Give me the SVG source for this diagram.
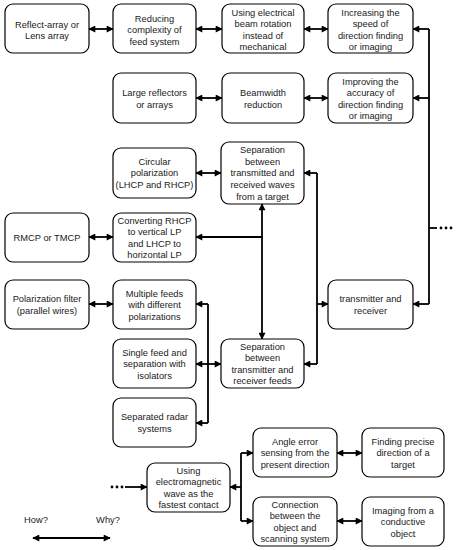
<svg xmlns="http://www.w3.org/2000/svg" width="459" height="550" viewBox="0 0 459 550">
<style>
.b{fill:#fff;stroke:#000;stroke-width:1.2}
.t{font-family:"Liberation Sans",Arial,sans-serif;font-size:9.3px;fill:#1a1a1a;text-anchor:middle}
.c{fill:none;stroke:#000;stroke-width:1.8}
.a2{marker-start:url(#ah);marker-end:url(#ah)}
.a1{marker-end:url(#ah)}
</style>
<defs>
<marker id="ah" viewBox="0 0 10 10" refX="9" refY="5" markerWidth="8" markerHeight="7" markerUnits="userSpaceOnUse" orient="auto-start-reverse">
<path d="M0,0 L10,5 L0,10 z" fill="#000"/>
</marker>
</defs>
<rect width="459" height="550" fill="#fff"/>
<g id="connectors">
<path class="c a2" d="M89,29 H113"/>
<path class="c a2" d="M196,29 H222"/>
<path class="c a2" d="M304,29 H328"/>
<path class="c a2" d="M196,98 H222"/>
<path class="c a2" d="M304,98 H328"/>
<path class="c" d="M429,29 V304"/>
<path class="c a1" d="M429,29 H413"/>
<path class="c a1" d="M429,98 H413"/>
<path class="c a1" d="M429,304 H413"/>
<path class="c" d="M429,228 H437"/>
<circle cx="441" cy="228" r="1.4"/><circle cx="446" cy="228" r="1.4"/><circle cx="451" cy="228" r="1.4"/>
<path class="c a2" d="M196,173 H221"/>
<path class="c a2" d="M89,237 H113"/>
<path class="c a1" d="M262,237 H196"/>
<path class="c a2" d="M262,204 V339"/>
<path class="c" d="M317,173 V364"/>
<path class="c a1" d="M317,173 H304"/>
<path class="c a1" d="M317,364 H304"/>
<path class="c a1" d="M317,304 H328"/>
<path class="c a2" d="M89,304 H113"/>
<path class="c" d="M208,304 V423"/>
<path class="c a1" d="M208,304 H196"/>
<path class="c a1" d="M208,423 H196"/>
<path class="c a2" d="M196,364 H221"/>
<circle cx="112" cy="487" r="1.4"/><circle cx="117" cy="487" r="1.4"/><circle cx="122" cy="487" r="1.4"/>
<path class="c a1" d="M125,487 H147"/>
<path class="c a1" d="M241,487 H230"/>
<path class="c" d="M241,453 V521"/>
<path class="c a1" d="M241,453 H253"/>
<path class="c a1" d="M241,521 H253"/>
<path class="c a2" d="M337,453 H362"/>
<path class="c a2" d="M337,521 H362"/>
<path class="c a2" d="M33,538 H110"/>
</g>
<g id="legend">
<text class="t" x="36" y="523">How?</text>
<text class="t" x="108" y="523">Why?</text>
</g>
<g id="n1"><rect class="b" x="5" y="4" width="84" height="49" rx="8"/><text class="t"><tspan x="47" y="27.5">Reflect-array or</tspan><tspan x="47" y="39.2">Lens array</tspan></text></g>
<g id="n2"><rect class="b" x="113" y="4" width="83" height="49" rx="8"/><text class="t"><tspan x="154.5" y="21.5">Reducing</tspan><tspan x="154.5" y="33.2">complexity of</tspan><tspan x="154.5" y="44.9">feed system</tspan></text></g>
<g id="n3"><rect class="b" x="222" y="4" width="82" height="49" rx="8"/><text class="t"><tspan x="263" y="15.8">Using electrical</tspan><tspan x="263" y="27.3">beam rotation</tspan><tspan x="263" y="38.8">instead of</tspan><tspan x="263" y="50.3">mechanical</tspan></text></g>
<g id="n4"><rect class="b" x="328" y="4" width="85" height="49" rx="8"/><text class="t"><tspan x="370.5" y="15.8">Increasing the</tspan><tspan x="370.5" y="27.3">speed of</tspan><tspan x="370.5" y="38.8">direction finding</tspan><tspan x="370.5" y="50.3">or imaging</tspan></text></g>
<g id="n5"><rect class="b" x="113" y="73" width="83" height="50" rx="8"/><text class="t"><tspan x="154.5" y="96">Large reflectors</tspan><tspan x="154.5" y="107.7">or arrays</tspan></text></g>
<g id="n6"><rect class="b" x="222" y="73" width="82" height="50" rx="8"/><text class="t"><tspan x="263" y="96">Beamwidth</tspan><tspan x="263" y="107.7">reduction</tspan></text></g>
<g id="n7"><rect class="b" x="328" y="73" width="85" height="50" rx="8"/><text class="t"><tspan x="370.5" y="84.8">Improving the</tspan><tspan x="370.5" y="96.3">accuracy of</tspan><tspan x="370.5" y="107.8">direction finding</tspan><tspan x="370.5" y="119.3">or imaging</tspan></text></g>
<g id="n8"><rect class="b" x="113" y="148" width="83" height="50" rx="8"/><text class="t"><tspan x="154.5" y="164.5">Circular</tspan><tspan x="154.5" y="176.2">polarization</tspan><tspan x="154.5" y="187.9">(LHCP and RHCP)</tspan></text></g>
<g id="n9"><rect class="b" x="221" y="142" width="83" height="62" rx="8"/><text class="t"><tspan x="262.5" y="153.2">Separation</tspan><tspan x="262.5" y="164.8">between</tspan><tspan x="262.5" y="176.4">transmitted and</tspan><tspan x="262.5" y="188">received waves</tspan><tspan x="262.5" y="199.6">from a target</tspan></text></g>
<g id="n10"><rect class="b" x="5" y="213" width="84" height="49" rx="8"/><text class="t"><tspan x="47" y="241">RMCP or TMCP</tspan></text></g>
<g id="n11"><rect class="b" x="113" y="213" width="83" height="49" rx="8"/><text class="t"><tspan x="154.5" y="223.8">Converting RHCP</tspan><tspan x="154.5" y="235.3">to vertical LP</tspan><tspan x="154.5" y="246.8">and LHCP to</tspan><tspan x="154.5" y="258.3">horizontal LP</tspan></text></g>
<g id="n12"><rect class="b" x="5" y="280" width="84" height="49" rx="8"/><text class="t"><tspan x="47" y="302">Polarization filter</tspan><tspan x="47" y="313.7">(parallel wires)</tspan></text></g>
<g id="n13"><rect class="b" x="113" y="280" width="83" height="49" rx="8"/><text class="t"><tspan x="154.5" y="296.5">Multiple feeds</tspan><tspan x="154.5" y="308.2">with different</tspan><tspan x="154.5" y="319.9">polarizations</tspan></text></g>
<g id="n14"><rect class="b" x="328" y="280" width="85" height="49" rx="8"/><text class="t"><tspan x="370.5" y="302">transmitter and</tspan><tspan x="370.5" y="313.7">receiver</tspan></text></g>
<g id="n15"><rect class="b" x="113" y="339" width="83" height="49" rx="8"/><text class="t"><tspan x="154.5" y="355.5">Single feed and</tspan><tspan x="154.5" y="367.2">separation with</tspan><tspan x="154.5" y="378.9">isolators</tspan></text></g>
<g id="n16"><rect class="b" x="221" y="339" width="83" height="49" rx="8"/><text class="t"><tspan x="262.5" y="349.8">Separation</tspan><tspan x="262.5" y="361.3">between</tspan><tspan x="262.5" y="372.8">transmitter and</tspan><tspan x="262.5" y="384.3">receiver feeds</tspan></text></g>
<g id="n17"><rect class="b" x="113" y="398" width="83" height="49" rx="8"/><text class="t"><tspan x="154.5" y="420">Separated radar</tspan><tspan x="154.5" y="431.7">systems</tspan></text></g>
<g id="n18"><rect class="b" x="147" y="463" width="83" height="49" rx="8"/><text class="t"><tspan x="188.5" y="473.8">Using</tspan><tspan x="188.5" y="485.3">electromagnetic</tspan><tspan x="188.5" y="496.8">wave as the</tspan><tspan x="188.5" y="508.3">fastest contact</tspan></text></g>
<g id="n19"><rect class="b" x="253" y="428" width="84" height="49" rx="8"/><text class="t"><tspan x="295" y="444.5">Angle error</tspan><tspan x="295" y="456.2">sensing from the</tspan><tspan x="295" y="467.9">present direction</tspan></text></g>
<g id="n20"><rect class="b" x="362" y="428" width="82" height="49" rx="8"/><text class="t"><tspan x="403" y="444.5">Finding precise</tspan><tspan x="403" y="456.2">direction of a</tspan><tspan x="403" y="467.9">target</tspan></text></g>
<g id="n21"><rect class="b" x="253" y="497" width="84" height="49" rx="8"/><text class="t"><tspan x="295" y="507.8">Connection</tspan><tspan x="295" y="519.3">between the</tspan><tspan x="295" y="530.8">object and</tspan><tspan x="295" y="542.3">scanning system</tspan></text></g>
<g id="n22"><rect class="b" x="362" y="497" width="82" height="49" rx="8"/><text class="t"><tspan x="403" y="513.5">Imaging from a</tspan><tspan x="403" y="525.2">conductive</tspan><tspan x="403" y="536.9">object</tspan></text></g>
</svg>
